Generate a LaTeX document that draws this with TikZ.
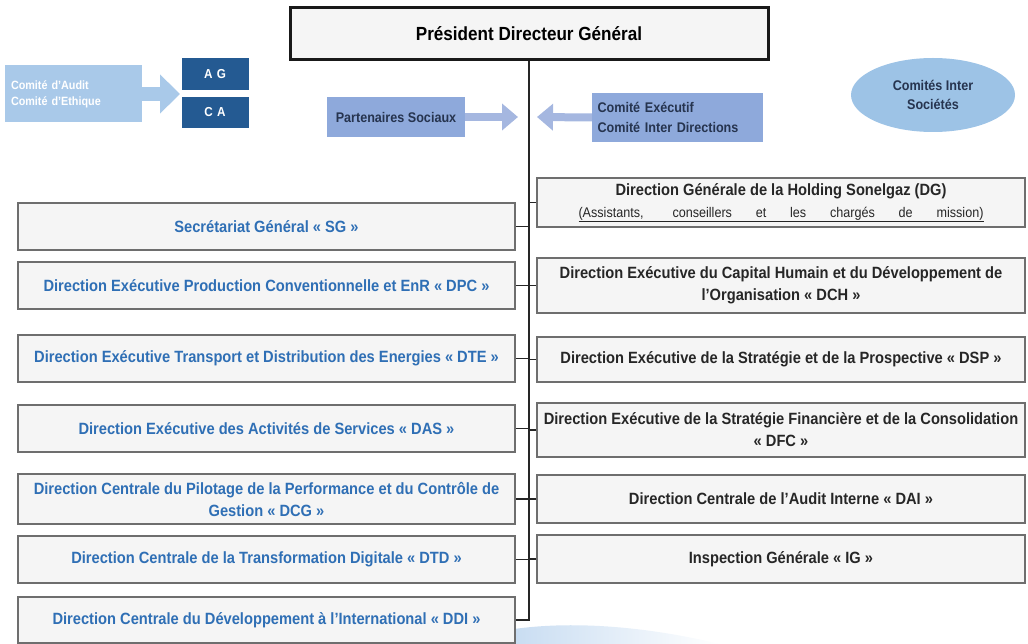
\documentclass[tikz,border=0pt]{standalone}
\usepackage{fontspec}
\setmainfont[FakeStretch=0.9]{Liberation Sans}
\usetikzlibrary{arrows.meta,shapes.geometric,calc}

\definecolor{boxfill}{HTML}{F5F5F5}
\definecolor{boxline}{HTML}{6E6E6E}
\definecolor{ltext}{HTML}{2F6FB5}
\definecolor{rtext}{HTML}{262626}
\definecolor{agblue}{HTML}{245A92}
\definecolor{auditblue}{HTML}{A9C9E9}
\definecolor{peri}{HTML}{8EA9DB}
\definecolor{periarrow}{HTML}{A5B7E0}
\definecolor{ovalblue}{HTML}{9DC3E6}
\definecolor{darknavy}{HTML}{26344F}
\definecolor{swoosh}{HTML}{B9D3EE}

\begin{document}
\begin{tikzpicture}[x=1pt,y=-1pt,
  unitbox/.style={draw=boxline, line width=1.6pt, fill=boxfill, inner sep=0pt,
    align=center, font=\fontsize{16.3}{22}\selectfont\bfseries},
  leftbox/.style={unitbox, text=ltext, minimum width=497pt},
  rightbox/.style={unitbox, text=rtext, minimum width=488pt},
  link/.style={draw=black!85, line width=1.1pt},
  bluearrow/.style={line width=8pt, draw=periarrow, -{Triangle[width=26pt,length=16pt]}}]

\useasboundingbox (0,0) rectangle (1028,644);

% decorative swoosh along the bottom edge
\shade[left color=swoosh, right color=white] (455,644) .. controls (520,618) and (620,620) .. (720,644) -- cycle;

% head of the organisation
\node[draw=black!90, line width=3pt, fill=boxfill, minimum width=478pt, minimum height=52pt,
  font=\fontsize{19}{22}\selectfont\bfseries] (pdg) at (529,34) {Président Directeur Général};

% governance bodies (top left)
\node[fill=auditblue, text=white, text width=125pt, inner xsep=6pt, minimum height=57pt,
  align=left, font=\fontsize{12}{16}\selectfont\bfseries] (audit) at (73.5,94)
  {Comité d'Audit\\Comité d'Ethique};
\coordinate (audittip) at (180,94);
\draw[draw=auditblue, line width=14pt, -{Triangle[width=38pt,length=20pt]}] (audit.east) -- (audittip);

\node[fill=agblue, text=white, minimum width=67pt, minimum height=32pt,
  font=\fontsize{13}{15}\selectfont\bfseries] (ag) at (215,74) {A\,\,G};
\node[fill=agblue, text=white, minimum width=67pt, minimum height=31pt,
  font=\fontsize{13}{15}\selectfont\bfseries] (ca) at (215,112.5) {C\,\,A};

% consultative bodies around the trunk
\node[fill=peri, text=darknavy, minimum width=138pt, minimum height=40pt,
  font=\fontsize{14}{16}\selectfont\bfseries] (ps) at (396,117) {Partenaires Sociaux};
\coordinate (pstip) at (518,117);
\draw[bluearrow] (ps.east) -- (pstip);

\node[fill=peri, text=darknavy, text width=160pt, inner xsep=5.5pt, minimum height=49pt,
  align=left, font=\fontsize{14}{20}\selectfont\bfseries] (comex) at (677.5,117.5)
  {Comité Exécutif\\Comité Inter Directions};
\coordinate (comextip) at (537,117);
\draw[bluearrow] (comex.west) -- (comextip);

\node[ellipse, fill=ovalblue, text=darknavy, minimum width=164pt, minimum height=74pt,
  align=center, font=\fontsize{14}{19}\selectfont\bfseries] (cis) at (933,95)
  {Comités Inter\\Sociétés};

% left column
\node[leftbox, minimum height=47pt] (sg)  at (266.5,226.5) {Secrétariat Général « SG »};
\node[leftbox, minimum height=47pt] (dpc) at (266.5,285.5) {Direction Exécutive Production Conventionnelle et EnR « DPC »};
\node[leftbox, minimum height=47pt] (dte) at (266.5,358.5) {Direction Exécutive Transport et Distribution des Energies « DTE »};
\node[leftbox, minimum height=47pt] (das) at (266.5,428.5) {Direction Exécutive des Activités de Services « DAS »};
\node[leftbox, minimum height=50pt] (dcg) at (266.5,499)   {Direction Centrale du Pilotage de la Performance et du Contrôle de\\Gestion « DCG »};
\node[leftbox, minimum height=47pt] (dtd) at (266.5,559.5) {Direction Centrale de la Transformation Digitale « DTD »};
\node[leftbox, minimum height=46pt] (ddi) at (266.5,620)   {Direction Centrale du Développement à l'International « DDI »};

% right column
\node[rightbox, minimum height=49pt] (dg)  at (781,202.5)
  {Direction Générale de la Holding Sonelgaz (DG)\\
   {\mdseries\fontsize{14}{16}\selectfont\underline{\makebox[405pt][s]{(Assistants, conseillers et les chargés de mission)}}}};
\node[rightbox, minimum height=55pt] (dch) at (781,285.5) {Direction Exécutive du Capital Humain et du Développement de\\l'Organisation « DCH »};
\node[rightbox, minimum height=45pt] (dsp) at (781,359.5) {Direction Exécutive de la Stratégie et de la Prospective « DSP »};
\node[rightbox, minimum height=54pt] (dfc) at (781,430)   {Direction Exécutive de la Stratégie Financière et de la Consolidation\\« DFC »};
\node[rightbox, minimum height=48pt] (dai) at (781,499)   {Direction Centrale de l'Audit Interne « DAI »};
\node[rightbox, minimum height=48pt] (ig)  at (781,559)   {Inspection Générale « IG »};

% trunk and branches
\draw[link] (pdg.south) -- (pdg.south |- ddi.east) -- (ddi.east);
\foreach \n in {sg,dpc,dte,das,dcg,dtd}
  \draw[link] (\n.east) -- (\n.east -| pdg.south);
\foreach \n in {dg,dch,dsp,dfc,dai,ig}
  \draw[link] (\n.west) -- (\n.west -| pdg.south);

\end{tikzpicture}
\end{document}
